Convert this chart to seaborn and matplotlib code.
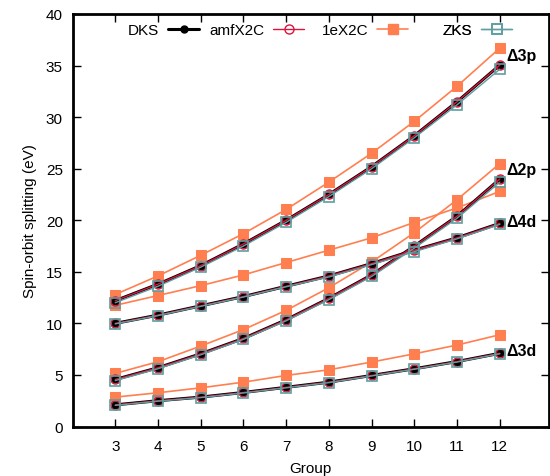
import matplotlib
matplotlib.use("Agg")
import matplotlib.pyplot as plt
from matplotlib.lines import Line2D
import seaborn as sns
import pandas as pd

groups = [3, 4, 5, 6, 7, 8, 9, 10, 11, 12]
levels = ["Δ3p", "Δ2p", "Δ4d", "Δ3d"]
methods = ["DKS", "amfX2C", "1eX2C", "ZKS"]

dks_3p = [12.2, 13.8, 15.6, 17.7, 20.0, 22.5, 25.2, 28.2, 31.5, 35.05]
dks_2p = [4.56, 5.7, 7.05, 8.54, 10.35, 12.43, 14.7, 17.5, 20.4, 24.0]
dks_4d = [10.0, 10.8, 11.7, 12.6, 13.6, 14.6, 15.8, 17.1, 18.3, 19.7]
dks_3d = [2.1, 2.5, 2.85, 3.3, 3.8, 4.3, 4.95, 5.6, 6.3, 7.1]

amf_3p = [12.2, 13.8, 15.6, 17.7, 20.0, 22.5, 25.2, 28.2, 31.5, 35.05]
amf_2p = [4.56, 5.7, 7.05, 8.54, 10.35, 12.43, 14.7, 17.5, 20.4, 24.0]
amf_4d = [10.0, 10.8, 11.7, 12.6, 13.6, 14.6, 15.8, 17.1, 18.3, 19.7]
amf_3d = [2.1, 2.5, 2.85, 3.3, 3.8, 4.3, 4.95, 5.6, 6.3, 7.1]

ex2c_3p = [12.8, 14.6, 16.6, 18.7, 21.05, 23.7, 26.5, 29.6, 33.0, 36.7]
ex2c_2p = [5.15, 6.28, 7.8, 9.4, 11.26, 13.46, 15.95, 18.8, 22.0, 25.5]
ex2c_4d = [11.75, 12.7, 13.66, 14.7, 15.9, 17.1, 18.3, 19.8, 21.2, 22.8]
ex2c_3d = [2.85, 3.27, 3.75, 4.3, 4.95, 5.5, 6.25, 7.05, 7.9, 8.9]

zks_3p = [12.0, 13.6, 15.45, 17.5, 19.8, 22.3, 25.0, 28.0, 31.2, 34.65]
zks_2p = [4.45, 5.6, 6.95, 8.45, 10.25, 12.3, 14.55, 17.3, 20.2, 23.7]
zks_4d = [9.95, 10.75, 11.65, 12.55, 13.55, 14.5, 15.7, 16.95, 18.2, 19.6]
zks_3d = [2.05, 2.45, 2.8, 3.25, 3.75, 4.25, 4.9, 5.55, 6.25, 7.05]

data = {
    "DKS": [dks_3p, dks_2p, dks_4d, dks_3d],
    "amfX2C": [amf_3p, amf_2p, amf_4d, amf_3d],
    "1eX2C": [ex2c_3p, ex2c_2p, ex2c_4d, ex2c_3d],
    "ZKS": [zks_3p, zks_2p, zks_4d, zks_3d],
}

rows = []
for m in methods:
    for lev, vals in zip(levels, data[m]):
        for g, v in zip(groups, vals):
            rows.append({"Group": g, "value": v, "method": m, "level": lev})
df = pd.DataFrame(rows)

sns.set_style("ticks")
plt.rcParams.update({
    "font.family": ["Liberation Sans", "DejaVu Sans"],
    "axes.edgecolor": "black",
    "axes.labelcolor": "black",
    "text.color": "black",
    "xtick.color": "black",
    "ytick.color": "black",
})

styles = {
    "DKS": dict(color="black", lw=2.2, marker="o", ms=5, mfc="black", mec="black", zorder=3),
    "amfX2C": dict(color="#dc143c", lw=1.0, marker="o", ms=6.5, mfc="none", mec="#dc143c", mew=1.0, zorder=4),
    "1eX2C": dict(color="#ff7f50", lw=1.2, marker="s", ms=6.5, mfc="#ff7f50", mec="#ff7f50", zorder=2),
    "ZKS": dict(color="#5f9ea0", lw=1.0, marker="s", ms=6.5, mfc="none", mec="#5f9ea0", mew=1.2, zorder=5),
}

fig = plt.figure(figsize=(5.5, 4.77), dpi=100)
ax = fig.add_axes([72.5 / 550, 1 - 427.5 / 477, (549 - 72.5) / 550, (427.5 - 15) / 477])

for m in ["1eX2C", "DKS", "amfX2C", "ZKS"]:
    for lev in levels:
        sub = df[(df.method == m) & (df.level == lev)]
        sns.lineplot(data=sub, x="Group", y="value", ax=ax, estimator=None,
                     legend=False, **styles[m])

ax.set_xlim(2, 13.15)
ax.set_ylim(0, 40)
ax.set_xticks(groups)
ax.set_yticks(range(0, 41, 5))
ax.tick_params(direction="in", length=6, width=1, top=True, right=True,
               labelsize=11, pad=7)
ax.tick_params(axis="x", pad=9)
for s in ax.spines.values():
    s.set_linewidth(2)
ax.set_xlabel("Group", fontsize=11, labelpad=6)
ax.set_ylabel("Spin-orbit splitting (eV)", fontsize=11, labelpad=6)

label_y = {"Δ3p": 36.0, "Δ2p": 24.9, "Δ4d": 19.9, "Δ3d": 7.4}
for lev in levels:
    ax.text(12.15, label_y[lev], lev, fontsize=11.5, fontweight="bold",
            va="center", ha="left")

# one legend entry per column, right edge of each sample at fixed pitch
sample_right_px = [199, 304, 408, 512]
for m, xr in zip(methods, sample_right_px):
    st = dict(styles[m])
    st.pop("zorder")
    h = Line2D([], [], **st)
    leg = ax.legend([h], [m], markerfirst=False, frameon=False, loc="upper right",
                    bbox_to_anchor=(xr / 550, 1 - 24 / 477), bbox_transform=fig.transFigure,
                    fontsize=11, handlelength=2.0, handletextpad=0.6,
                    borderpad=0, borderaxespad=0)
    ax.add_artist(leg)

fig.savefig("out.png", dpi=100)
